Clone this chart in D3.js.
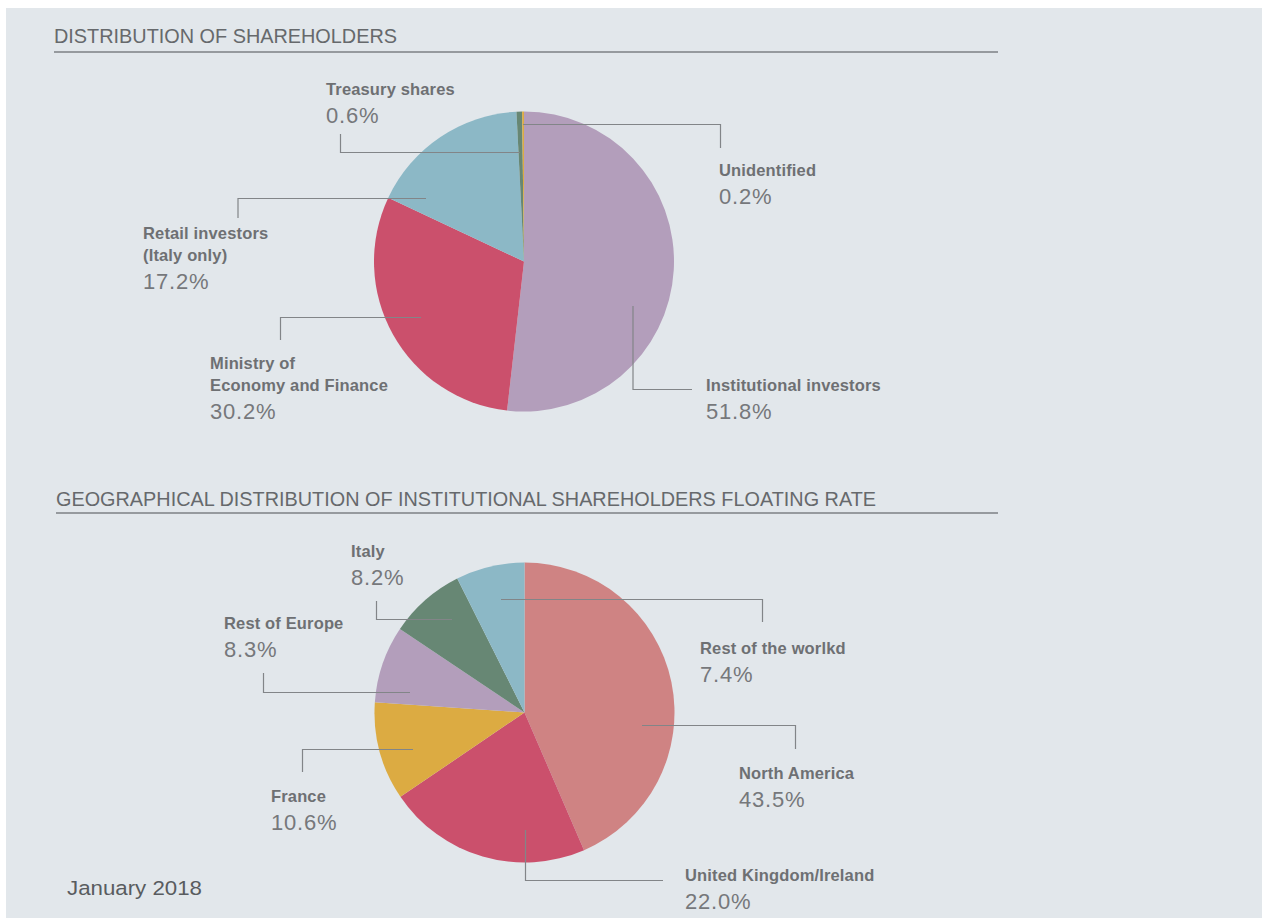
<!DOCTYPE html>
<html>
<head>
<meta charset="utf-8">
<script src="https://cdn.jsdelivr.net/npm/d3@7"></script>
<style>
  html, body { margin: 0; padding: 0; background: #ffffff; }
  svg { display: block; }
</style>
</head>
<body>
<svg id="chart" width="1262" height="918"></svg>
<script>
// ---------- DATA ----------
const shareholderCategories = ["Institutional investors", "Ministry of Economy and Finance", "Retail investors (Italy only)", "Treasury shares", "Unidentified"];
const shareholderValues = [51.8, 30.2, 17.2, 0.6, 0.2];
const shareholderLabelLines = [["Institutional investors"], ["Ministry of", "Economy and Finance"], ["Retail investors", "(Italy only)"], ["Treasury shares"], ["Unidentified"]];

const geoCategories = ["North America", "United Kingdom/Ireland", "France", "Rest of Europe", "Italy", "Rest of the worlkd"];
const geoValues = [43.5, 22.0, 10.6, 8.3, 8.2, 7.4];
const geoLabelLines = [["North America"], ["United Kingdom/Ireland"], ["France"], ["Rest of Europe"], ["Italy"], ["Rest of the worlkd"]];

const title1 = "DISTRIBUTION OF SHAREHOLDERS";
const title2 = "GEOGRAPHICAL DISTRIBUTION OF INSTITUTIONAL SHAREHOLDERS FLOATING RATE";
const footnote = "January 2018";

// ---------- STYLE / LAYOUT ----------
const shareholderColors = ["#b39ebb", "#cb506c", "#8cb8c6", "#678774", "#dcab42"];
const geoColors = ["#cf8383", "#cb506c", "#dcab42", "#b39ebb", "#678774", "#8cb8c6"];

// label anchor (first line baseline) and leader polyline, in page coords
const shareholderLayout = [
  { lx: 706, ly: 391, leader: [[633, 306], [633, 389.5], [692, 389.5]] },
  { lx: 210, ly: 369, leader: [[421, 317.5], [280.5, 317.5], [280.5, 340]] },
  { lx: 143, ly: 239, leader: [[426, 198.5], [238, 198.5], [238, 218]] },
  { lx: 326, ly: 95,  leader: [[520, 152.5], [340.5, 152.5], [340.5, 134]] },
  { lx: 719, ly: 176, leader: [[523, 124.5], [720.5, 124.5], [720.5, 148]] }
];
const geoLayout = [
  { lx: 739, ly: 779, leader: [[642, 725.5], [795.5, 725.5], [795.5, 749]] },
  { lx: 685, ly: 881, leader: [[525.5, 830], [525.5, 880.5], [663, 880.5]] },
  { lx: 271, ly: 802, leader: [[413, 749.5], [302.5, 749.5], [302.5, 772]] },
  { lx: 224, ly: 629, leader: [[410, 692.5], [263.5, 692.5], [263.5, 673]] },
  { lx: 351, ly: 557, leader: [[452, 619.5], [376.5, 619.5], [376.5, 601]] },
  { lx: 700, ly: 654, leader: [[501, 599.5], [762.5, 599.5], [762.5, 622]] }
];

const BG = "#e2e7eb";
const LINE = "#828588";
const LABEL_COLOR = "#6e7073";
const PCT_COLOR = "#76787b";
const FONT = "'Liberation Sans', Arial, sans-serif";

const svg = d3.select("#chart");

// panel background
svg.append("rect").attr("x", 6).attr("y", 8).attr("width", 1256).attr("height", 910).attr("fill", BG);

// titles
function drawTitle(text, x, y, len, lineY) {
  svg.append("text")
    .attr("x", x).attr("y", y)
    .attr("font-family", FONT).attr("font-size", 21)
    .attr("fill", "#66696c")
    .attr("textLength", len).attr("lengthAdjust", "spacingAndGlyphs")
    .text(text);
  svg.append("line")
    .attr("x1", x).attr("x2", 998)
    .attr("y1", lineY).attr("y2", lineY)
    .attr("stroke", "#7d8084").attr("stroke-width", 1.3);
}
drawTitle(title1, 54, 42.5, 343, 52);
drawTitle(title2, 56, 506, 820, 513);

function drawPie(cx, cy, r, values, colors, labelLines, layout) {
  const pie = d3.pie().sort(null).value(d => d).startAngle(0).endAngle(2 * Math.PI);
  const arc = d3.arc().innerRadius(0).outerRadius(r);
  const g = svg.append("g").attr("transform", `translate(${cx},${cy})`);
  g.selectAll("path")
    .data(pie(values))
    .join("path")
    .attr("d", arc)
    .attr("fill", (d, i) => colors[i]);

  const line = d3.line();
  const ann = svg.append("g");
  layout.forEach((L, i) => {
    ann.append("path")
      .attr("d", line(L.leader))
      .attr("fill", "none")
      .attr("stroke", LINE)
      .attr("stroke-width", 1.2);
    const lines = labelLines[i];
    lines.forEach((t, j) => {
      ann.append("text")
        .attr("x", L.lx).attr("y", L.ly + j * 22)
        .attr("font-family", FONT).attr("font-weight", "bold").attr("font-size", 16.5)
        .attr("letter-spacing", 0.15)
        .attr("fill", LABEL_COLOR)
        .text(t);
    });
    ann.append("text")
      .attr("x", L.lx).attr("y", L.ly + (lines.length - 1) * 22 + 28)
      .attr("font-family", FONT).attr("font-size", 22)
      .attr("letter-spacing", 0.8)
      .attr("fill", PCT_COLOR)
      .text(values[i].toFixed(1) + "%");
  });
}

drawPie(524, 261.5, 150, shareholderValues, shareholderColors, shareholderLabelLines, shareholderLayout);
drawPie(524.5, 712.5, 150, geoValues, geoColors, geoLabelLines, geoLayout);

svg.append("text")
  .attr("x", 67).attr("y", 895)
  .attr("font-family", FONT).attr("font-size", 20.5)
  .attr("fill", "#595c5f")
  .attr("textLength", 135).attr("lengthAdjust", "spacingAndGlyphs")
  .text(footnote);
</script>
</body>
</html>
